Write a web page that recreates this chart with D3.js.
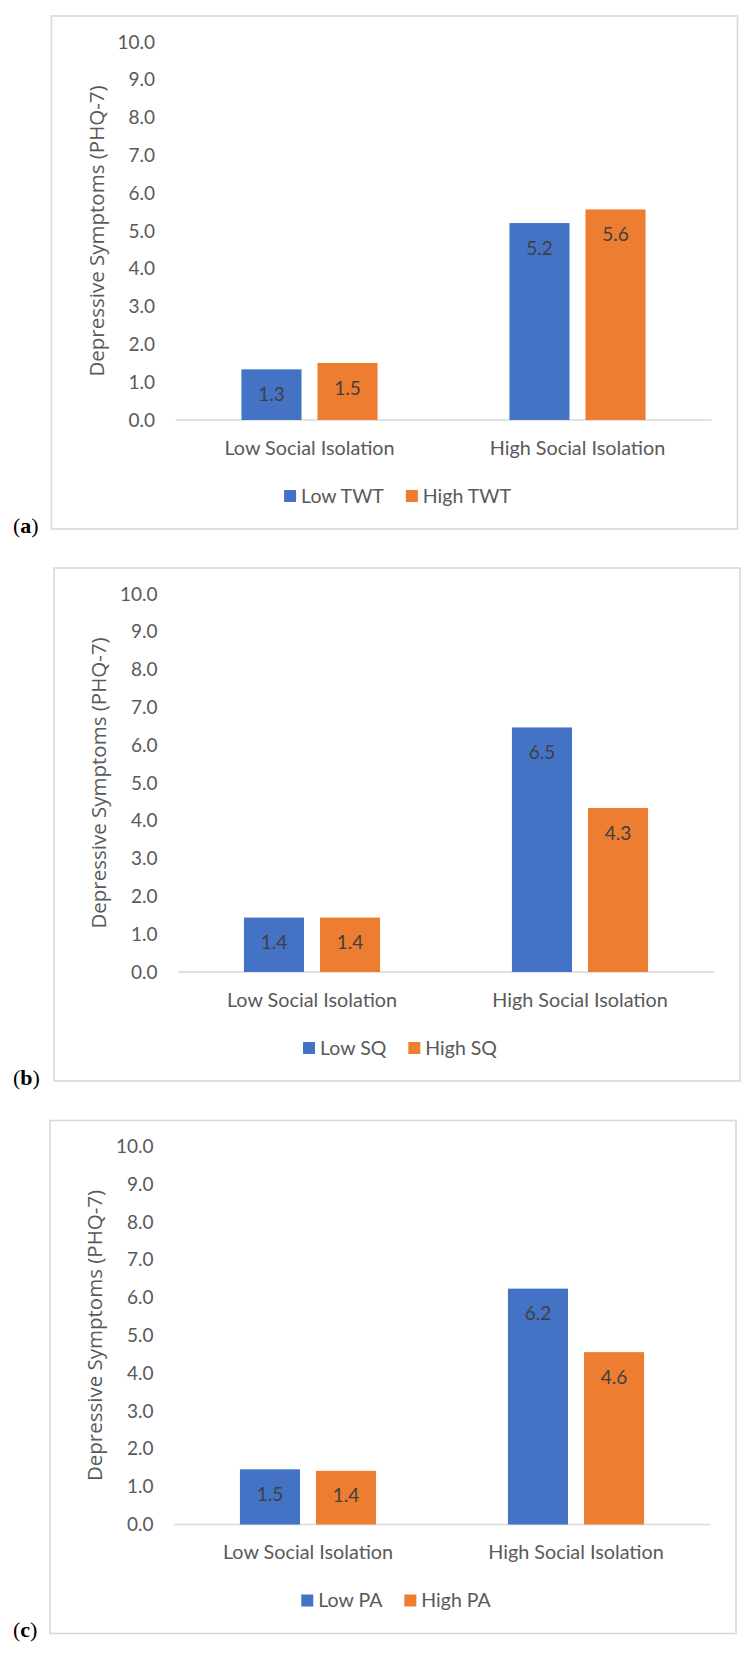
<!DOCTYPE html>
<html><head><meta charset="utf-8">
<script src="https://cdn.jsdelivr.net/npm/d3@7"></script>
<style>body{margin:0;background:#fff} svg{display:block}</style>
</head><body><svg id="c" width="755" height="1661"></svg>
<script>
// ---- data ----
const categories = ["Low Social Isolation", "High Social Isolation"];
const yTicks = [0, 1, 2, 3, 4, 5, 6, 7, 8, 9, 10];
const yTitle = "Depressive Symptoms (PHQ-7)";
const panelLabels = ["a", "b", "c"];

const seriesA = ["Low TWT", "High TWT"];
const lowTWT = [1.34, 5.21];
const highTWT = [1.51, 5.57];

const seriesB = ["Low SQ", "High SQ"];
const lowSQ = [1.44, 6.47];
const highSQ = [1.44, 4.34];

const seriesC = ["Low PA", "High PA"];
const lowPA = [1.46, 6.24];
const highPA = [1.42, 4.56];

const colors = ["#4472C4", "#ED7D31"];

const panels = [
  {label: panelLabels[0], series: seriesA, values: [lowTWT, highTWT], x0: 51.5, y0: 16},
  {label: panelLabels[1], series: seriesB, values: [lowSQ, highSQ], x0: 54, y0: 568},
  {label: panelLabels[2], series: seriesC, values: [lowPA, highPA], x0: 50, y0: 1120.5}
];

// ---- layout ----
const W = 686, H = 513;
const m = {left: 124, right: 26, top: 26};
const plotH = 378;
const FONT = "Lato, 'Open Sans', sans-serif";
const svg = d3.select("#c");
svg.append("rect").attr("width", 755).attr("height", 1661).attr("fill", "#fff");

panels.forEach(p => {
  const g = svg.append("g").attr("transform", `translate(${p.x0},${p.y0})`);
  g.append("rect").attr("x", 0).attr("y", 0).attr("width", W).attr("height", H)
    .attr("fill", "#fff").attr("stroke", "#d9d9d9").attr("stroke-width", 1.6);

  const plotW = W - m.left - m.right;
  const x0 = d3.scaleBand().domain(categories).range([m.left, m.left + plotW]);
  const bw = x0.bandwidth();
  const x1 = d3.scaleBand().domain(p.series).range([bw * 0.246, bw * 0.754]).paddingInner(0.21);
  const y = d3.scaleLinear().domain([0, 10]).range([m.top + plotH, m.top]);

  // y axis
  const ax = g.append("g").attr("transform", `translate(${m.left},0)`)
    .call(d3.axisLeft(y).tickValues(yTicks).tickFormat(d3.format(".1f")).tickSize(0).tickPadding(20.5));
  ax.select(".domain").remove();
  ax.selectAll("text").attr("font-family", FONT).attr("font-size", 19).attr("fill", "#595959");

  // baseline
  g.append("line").attr("x1", m.left).attr("x2", m.left + plotW)
    .attr("y1", y(0)).attr("y2", y(0)).attr("stroke", "#d9d9d9").attr("stroke-width", 1.5);

  // bars
  const rows = [];
  categories.forEach((c, ci) => p.series.forEach((s, si) => rows.push({c, s, si, v: p.values[si][ci]})));
  g.selectAll("rect.bar").data(rows).join("rect").attr("class", "bar")
    .attr("x", d => x0(d.c) + x1(d.s)).attr("width", x1.bandwidth())
    .attr("y", d => y(d.v)).attr("height", d => y(0) - y(d.v))
    .attr("fill", d => colors[d.si]);
  g.selectAll("text.lab").data(rows).join("text").attr("class", "lab")
    .attr("x", d => x0(d.c) + x1(d.s) + x1.bandwidth() / 2)
    .attr("y", d => y(d.v) + 25).attr("dy", "0.35em")
    .attr("text-anchor", "middle").attr("font-family", FONT).attr("font-size", 19)
    .attr("fill", "#404040").text(d => d3.format(".1f")(d.v));

  // category labels
  g.selectAll("text.cat").data(categories).join("text").attr("class", "cat")
    .attr("x", d => x0(d) + bw / 2).attr("y", y(0) + 28).attr("dy", "0.35em")
    .attr("text-anchor", "middle").attr("font-family", FONT).attr("font-size", 19.8)
    .attr("fill", "#595959").text(d => d);

  // y title
  g.append("text").attr("transform", `translate(45,${m.top + plotH / 2}) rotate(-90)`)
    .attr("text-anchor", "middle").attr("dy", "0.35em")
    .attr("font-family", "'Open Sans', sans-serif").attr("font-size", 20.5)
    .attr("fill", "#595959").text(yTitle);

  // legend
  const leg = g.append("g");
  let cx = 0;
  p.series.forEach((s, i) => {
    const it = leg.append("g").attr("transform", `translate(${cx},0)`);
    it.append("rect").attr("x", 0).attr("y", -6).attr("width", 12).attr("height", 12).attr("fill", colors[i]);
    const t = it.append("text").attr("x", 17).attr("dy", "0.35em").attr("font-family", FONT)
      .attr("font-size", 19.5).attr("fill", "#595959").text(s);
    cx += 17 + t.node().getComputedTextLength() + 22;
  });
  const lw = cx - 22;
  leg.attr("transform", `translate(${W / 2 + 3 - lw / 2},${y(0) + 76})`);

  // panel label
  const pl = svg.append("text").attr("x", 13).attr("y", p.y0 + H + 3.5)
    .attr("font-family", "'Liberation Serif', serif").attr("font-size", 22).attr("fill", "#000");
  pl.append("tspan").text("(");
  pl.append("tspan").attr("font-weight", "bold").text(p.label);
  pl.append("tspan").text(")");
});
</script></body></html>
